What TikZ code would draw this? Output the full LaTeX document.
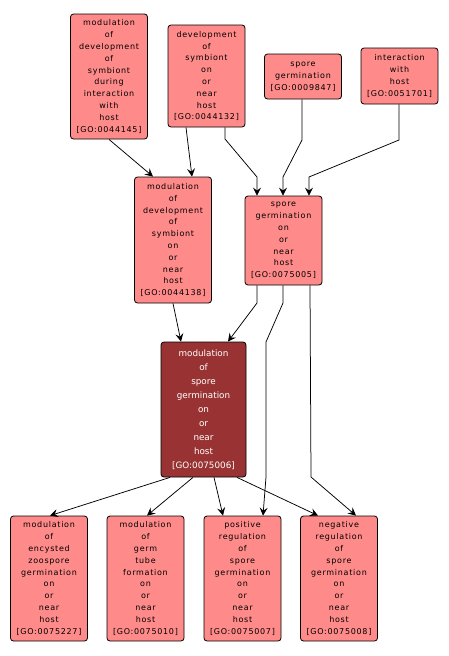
\documentclass[tikz,border=0pt]{standalone}
\usepackage{fontspec}
\usetikzlibrary{arrows.meta}
\newfontfamily\gofont[LetterSpace=9]{DejaVu Sans}
\newfontfamily\gohit{DejaVu Sans}
\definecolor{golight}{RGB}{255,138,138}
\definecolor{godark}{RGB}{153,51,51}

\begin{document}
\begin{tikzpicture}[x=1pt, y=-1pt,
        term/.style={draw, line width=0.8pt, rounded corners=3pt, fill=golight, align=center,
                inner sep=0pt, minimum width=77pt, font=\gofont\fontsize{8}{11.8}\selectfont},
        hit/.style={term, fill=godark, text=white, minimum width=85pt, font=\gohit\fontsize{8.8}{14}\selectfont},
        edge/.style={line width=0.75pt, -{Stealth[length=8pt, width=8pt, inset=3pt]}}]
        \useasboundingbox (0,0) rectangle (448,656);

        \node[term, minimum height=125pt] (n44145) at (109,76.5) {modulation\\of\\development\\of\\symbiont\\during\\interaction\\with\\host\\{[GO:0044145]}};
        \node[term, minimum height=102pt] (n44132) at (206.5,76) {development\\of\\symbiont\\on\\or\\near\\host\\{[GO:0044132]}};
        \node[term, minimum height=45pt] (n9847) at (303,76.5) {spore\\germination\\{[GO:0009847]}};
        \node[term, minimum height=56pt] (n51701) at (399.5,76) {interaction\\with\\host\\{[GO:0051701]}};
        \node[term, minimum height=126pt] (n44138) at (173,240) {modulation\\of\\development\\of\\symbiont\\on\\or\\near\\host\\{[GO:0044138]}};
        \node[term, minimum height=89pt] (n75005) at (283.5,240.5) {spore\\germination\\on\\or\\near\\host\\{[GO:0075005]}};
        \node[hit, minimum height=135pt] (n75006) at (203.5,409.5) {modulation\\of\\spore\\germination\\on\\or\\near\\host\\{[GO:0075006]}};
        \node[term, minimum height=125pt] (n75227) at (49,578.5) {modulation\\of\\encysted\\zoospore\\germination\\on\\or\\near\\host\\{[GO:0075227]}};
        \node[term, minimum height=125pt] (n75010) at (145.5,578.5) {modulation\\of\\germ\\tube\\formation\\on\\or\\near\\host\\{[GO:0075010]}};
        \node[term, minimum height=125pt] (n75007) at (242.5,578.5) {positive\\regulation\\of\\spore\\germination\\on\\or\\near\\host\\{[GO:0075007]}};
        \node[term, minimum height=125pt] (n75008) at (339,578.5) {negative\\regulation\\of\\spore\\germination\\on\\or\\near\\host\\{[GO:0075008]}};

        \draw[edge] (n44145.south) -- (n44138.north -| 153,0);
        \draw[edge] (n44132.south -| 186,0) -- (n44138.north -| 192,0);
        \draw[edge] (n44132.south -| 225,0) -- (225,139) -- (257,177) -- (n75005.north -| 257,0);
        \draw[edge] (n9847.south -| 302,0) -- (302,140) -- (283,177) -- (n75005.north -| 283,0);
        \draw[edge] (n51701.south -| 399,0) -- (399,140) -- (309,177) -- (n75005.north -| 309,0);
        \draw[edge] (n44138.south) -- (n75006.north -| 181,0);
        \draw[edge] (n75005.south -| 257,0) -- (257,303) -- (n75006.north -| 228,0);
        \draw[edge] (n75005.south -| 283,0) -- (283,303) -- (266,342) -- (266,477) -- (n75007.north -| 263,0);
        \draw[edge] (n75005.south -| 310,0) -- (311,477) -- (n75008.north -| 356,0);
        \draw[edge] (n75006.south -| 170,0) -- (n75227.north -| 50,0);
        \draw[edge] (n75006.south -| 193,0) -- (n75010.north -| 147,0);
        \draw[edge] (n75006.south -| 214,0) -- (n75007.north -| 223,0);
        \draw[edge] (n75006.south -| 237,0) -- (n75008.north -| 318,0);
\end{tikzpicture}
\end{document}
